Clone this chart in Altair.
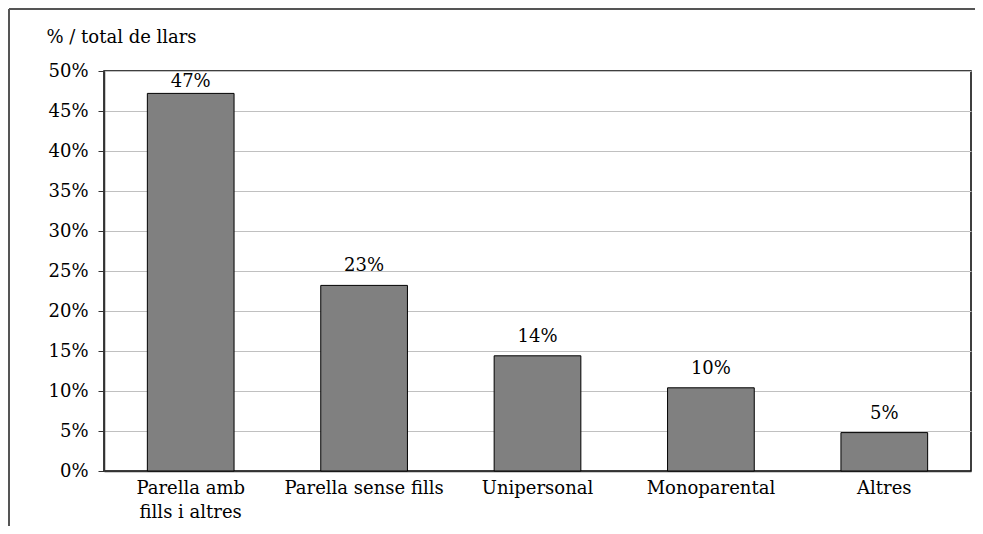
import altair as alt
import pandas as pd

categories = ["Parella amb\nfills i altres", "Parella sense fills", "Unipersonal", "Monoparental", "Altres"]
values = [0.472, 0.232, 0.144, 0.104, 0.048]
y_ticks = [0, 0.05, 0.10, 0.15, 0.20, 0.25, 0.30, 0.35, 0.40, 0.45, 0.50]

df = pd.DataFrame({"cat": categories, "value": values})

FONT = "DejaVu Serif"
FS = 18

x_enc = alt.X("cat:N", sort=None, title=None,
              scale=alt.Scale(paddingInner=0.5, paddingOuter=0.25),
              axis=alt.Axis(labelAngle=0, labelExpr="split(datum.label, '\\n')",
                            ticks=False, labelPadding=8, labelLineHeight=24,
                            labelFont=FONT, labelFontSize=FS, labelColor="black",
                            domainColor="#333333", domainWidth=1.5))

y_enc = alt.Y("value:Q", scale=alt.Scale(domain=[0, 0.5], nice=False),
              axis=alt.Axis(values=y_ticks, format=".0%", title="% / total de llars",
                            titleAngle=0, titleAlign="left", titleBaseline="alphabetic",
                            titleX=-58, titleY=-29, titleFont=FONT, titleFontSize=FS,
                            titleFontWeight="normal", titleColor="black",
                            labelFont=FONT, labelFontSize=FS, labelColor="black",
                            labelOverlap=False, labelPadding=10, tickSize=6,
                            tickColor="#333333", domainColor="#333333", domainWidth=1.5,
                            grid=True, gridColor="#c0c0c0", gridWidth=1))

bars = alt.Chart(df).mark_bar(color="#808080", stroke="black", strokeWidth=1).encode(
    x=x_enc, y=y_enc)

labels_low = alt.Chart(df).transform_filter("datum.value < 0.4").mark_text(
    baseline="alphabetic", dy=-14, fontSize=FS, color="black", font=FONT
).encode(x=x_enc, y=y_enc, text=alt.Text("value:Q", format=".0%"))

labels_high = alt.Chart(df).transform_filter("datum.value >= 0.4").mark_text(
    baseline="alphabetic", dy=-6, fontSize=FS, color="black", font=FONT
).encode(x=x_enc, y=y_enc, text=alt.Text("value:Q", format=".0%"))

frame_data = alt.Data(values=[{"a": 1}])
frame_top = alt.Chart(frame_data).mark_rule(color="#555555", strokeWidth=2, clip=False).encode(
    x=alt.value(-95), x2=alt.value(1000), y=alt.value(-62))
frame_left = alt.Chart(frame_data).mark_rule(color="#555555", strokeWidth=2, clip=False).encode(
    x=alt.value(-95), y=alt.value(-62), y2=alt.value(600))

chart = alt.layer(bars, labels_low, labels_high, frame_top, frame_left).properties(
    width=867, height=400,
    autosize=alt.AutoSizeParams(type="none"),
    padding={"left": 96, "top": 63, "right": 4, "bottom": 55},
).configure_view(stroke="black", strokeWidth=1.5)

chart.save("out.html", embed_options={"renderer": "svg", "actions": False})
